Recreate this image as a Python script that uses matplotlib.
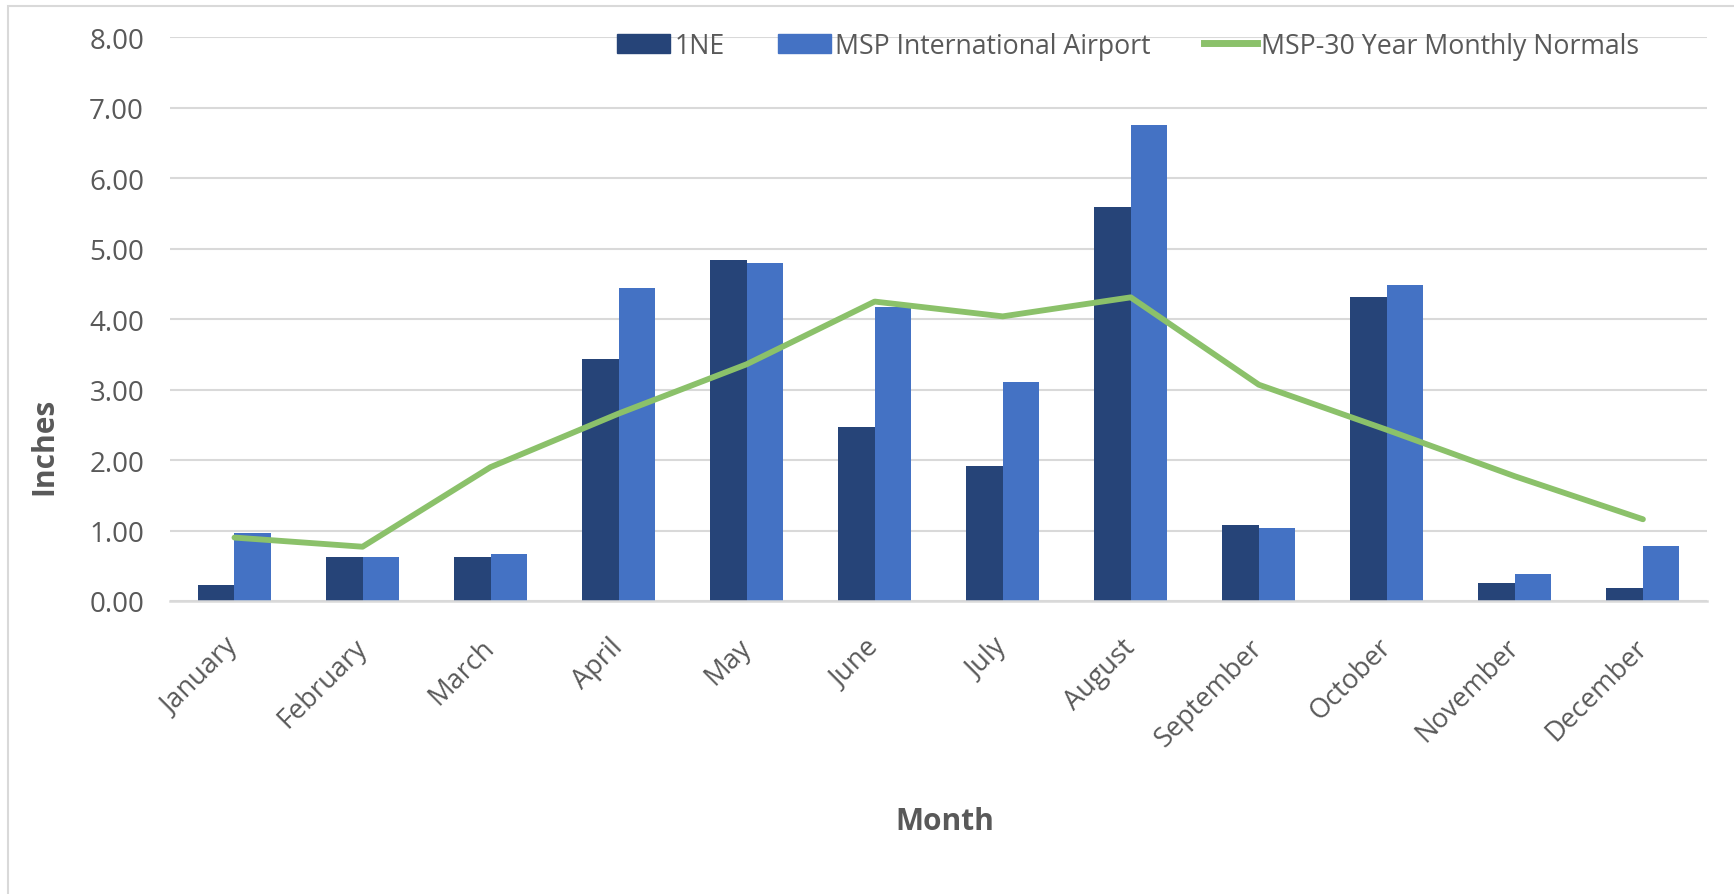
import matplotlib.pyplot as plt
import numpy as np
from matplotlib.patches import Patch, Rectangle
from matplotlib.lines import Line2D

plt.rcParams['font.family'] = ['Open Sans', 'DejaVu Sans']

# data
months = ['January', 'February', 'March', 'April', 'May', 'June',
          'July', 'August', 'September', 'October', 'November', 'December']
ne1 = [0.23, 0.62, 0.62, 3.43, 4.84, 2.47, 1.92, 5.59, 1.08, 4.31, 0.26, 0.19]
msp = [0.97, 0.63, 0.67, 4.44, 4.80, 4.17, 3.11, 6.75, 1.03, 4.49, 0.38, 0.78]
normals = [0.90, 0.77, 1.90, 2.66, 3.36, 4.25, 4.04, 4.31, 3.07, 2.43, 1.77, 1.16]
yticks = np.arange(0, 8.01, 1.0)

c_ne = '#264478'
c_msp = '#4472C4'
c_line = '#8BC16A'
c_text = '#595959'
c_grid = '#D9D9D9'

fig = plt.figure(figsize=(17.34, 8.95), dpi=100)
ax = fig.add_axes([0.0983, 0.3274, 0.8861, 0.6297])

x = np.arange(len(months))
w = 0.285
ax.bar(x - w / 2, ne1, w, color=c_ne, zorder=2)
ax.bar(x + w / 2, msp, w, color=c_msp, zorder=2)
ax.plot(x, normals, color=c_line, lw=4.2, solid_capstyle='round', zorder=3)

ax.set_xlim(-0.5, len(months) - 0.5)
ax.set_ylim(0, 8)
ax.set_yticks(yticks)
ax.set_yticklabels(['%.2f' % v for v in yticks])
ax.yaxis.grid(True, color=c_grid, lw=1.5, zorder=0)
ax.set_axisbelow(True)

for s in ['top', 'right', 'left']:
    ax.spines[s].set_visible(False)
ax.spines['bottom'].set_color(c_grid)
ax.spines['bottom'].set_linewidth(1.8)

ax.tick_params(axis='both', length=0, colors=c_text)
ax.tick_params(axis='y', pad=19, labelsize=20)
ax.tick_params(axis='x', pad=30, labelsize=19.5)
ax.set_xticks(x)
ax.set_xticklabels(months, rotation=45, ha='right', va='center',
                   rotation_mode='anchor')

fig.text(0.545, 1 - 822 / 895, 'Month', ha='center', va='center',
         fontsize=21.5, fontweight='bold', color=c_text)
fig.text(44 / 1734, 1 - 446 / 895, 'Inches', ha='center', va='center',
         rotation=90, fontsize=21.5, fontweight='bold', color=c_text)

handles = [Patch(color=c_ne, label='1NE'),
           Patch(color=c_msp, label='MSP International Airport'),
           Line2D([], [], color=c_line, lw=5, label='MSP-30 Year Monthly Normals')]
fig.legend(handles=handles, loc='center', bbox_to_anchor=(1128 / 1734, 1 - 47 / 895),
           ncol=3, frameon=False, fontsize=19.2, labelcolor=c_text,
           handlelength=2.0, handletextpad=0.15, columnspacing=2.0,
           handleheight=0.75)

# light chart border
fig.patches.append(Rectangle((8 / 1734, -0.05), 1.1, 1 - 7 / 895 + 0.05,
                             transform=fig.transFigure, fill=False,
                             edgecolor=c_grid, lw=1.5))

fig.savefig('out.png', dpi=100)
